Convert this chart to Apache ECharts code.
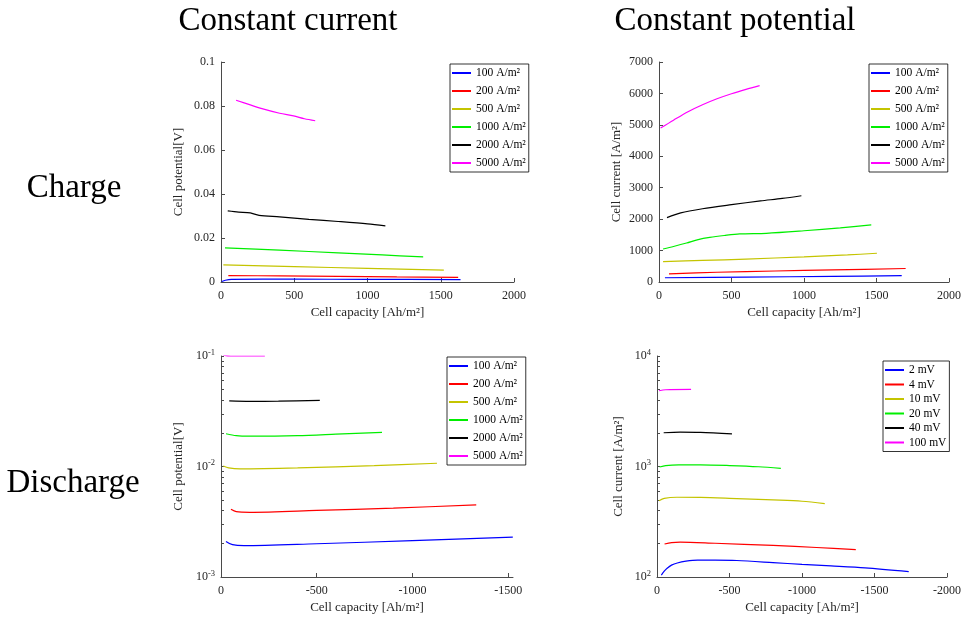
<!DOCTYPE html>
<html>
<head>
<meta charset="utf-8">
<script src="https://cdn.jsdelivr.net/npm/echarts@6/dist/echarts.min.js"></script>
<style>html,body{margin:0;padding:0;background:#fff}#c{width:964px;height:623px}</style>
</head>
<body>
<div id="c"></div>
<script>
// ---------- labels ----------
const currentNames = ['100 A/m²', '200 A/m²', '500 A/m²', '1000 A/m²', '2000 A/m²', '5000 A/m²'];
const potentialNames = ['2 mV', '4 mV', '10 mV', '20 mV', '40 mV', '100 mV'];
const colTitles = ['Constant current', 'Constant potential'];
const rowTitles = ['Charge', 'Discharge'];
const xName = 'Cell capacity [Ah/m²]';
const yNames = ['Cell potential[V]', 'Cell current [A/m²]', 'Cell potential[V]', 'Cell current [A/m²]'];

// ---------- tick values ----------
const xTicksCharge = [0, 500, 1000, 1500, 2000];
const xTicksDisLeft = [0, -500, -1000, -1500];
const xTicksDisRight = [0, -500, -1000, -1500, -2000];
const yLogDecadesLeft = [0.001, 0.01, 0.1];
const yLogDecadesRight = [100, 1000, 10000];
const yLogMinorLeft = [0.002,0.003,0.004,0.005,0.006,0.007,0.008,0.009,0.02,0.03,0.04,0.05,0.06,0.07,0.08,0.09];
const yLogMinorRight = [200,300,400,500,600,700,800,900,2000,3000,4000,5000,6000,7000,8000,9000];

// ---------- Constant current, charge: [capacity, potential V] ----------
const ccCh100 = [[5,0.0002],[30,0.0008],[70,0.0012],[500,0.0013],[1000,0.0012],[1635,0.0011]];
const ccCh200 = [[50,0.0029],[400,0.0028],[800,0.0026],[1200,0.0023],[1619,0.0021]];
const ccCh500 = [[16,0.0078],[500,0.0070],[1000,0.0062],[1521,0.0054]];
const ccCh1000 = [[27,0.0155],[400,0.0145],[800,0.0132],[1100,0.0123],[1380,0.0114]];
const ccCh2000 = [[46,0.0323],[120,0.0318],[200,0.0314],[260,0.0303],[400,0.0296],[600,0.0285],[800,0.0275],[1000,0.0264],[1122,0.0255]];
const ccCh5000 = [[103,0.0826],[200,0.0805],[267,0.0790],[400,0.0767],[495,0.0755],[570,0.0742],[643,0.0733]];

// ---------- Constant potential, charge: [capacity, current A/m2] ----------
const cpCh100 = [[41,135],[600,155],[1200,180],[1674,200]];
const cpCh200 = [[69,260],[400,310],[800,350],[1200,385],[1701,430]];
const cpCh500 = [[28,650],[300,685],[600,730],[1000,800],[1300,860],[1503,915]];
const cpCh1000 = [[28,1050],[100,1130],[190,1240],[270,1350],[350,1420],[450,1480],[556,1530],[740,1550],[1000,1630],[1250,1720],[1464,1815]];
const cpCh2000 = [[55,2050],[150,2200],[300,2330],[500,2460],[700,2580],[850,2660],[982,2745]];
const cpCh5000 = [[11,4900],[100,5150],[200,5420],[300,5640],[400,5830],[500,5990],[600,6130],[694,6250]];

// ---------- Constant current, discharge: [capacity, potential V] ----------
const ccDis100 = [[-26,0.0021],[-60,0.00196],[-120,0.00192],[-500,0.00200],[-1000,0.00213],[-1524,0.0023]];
const ccDis200 = [[-52,0.0041],[-80,0.0039],[-150,0.00385],[-500,0.0040],[-900,0.0042],[-1333,0.0045]];
const ccDis500 = [[-12,0.0101],[-40,0.0097],[-100,0.0095],[-400,0.0097],[-800,0.0102],[-1128,0.0107]];
const ccDis1000 = [[-26,0.0198],[-80,0.0190],[-150,0.0188],[-400,0.0190],[-600,0.0196],[-841,0.0204]];
const ccDis2000 = [[-43,0.0392],[-150,0.0388],[-300,0.0390],[-516,0.0397]];
const ccDis5000 = [[-12,0.102],[-50,0.100],[-229,0.100]];

// ---------- Constant potential, discharge: [capacity, current A/m2] ----------
const cpDis2 = [[-30,104],[-50,113],[-70,120],[-100,128],[-140,134],[-200,139],[-280,142],[-400,142],[-550,141],[-800,135],[-1000,130],[-1200,126],[-1435,121],[-1736,112]];
const cpDis4 = [[-52,199],[-100,205],[-160,207],[-400,202],[-800,193],[-1100,185],[-1371,177]];
const cpDis10 = [[-14,490],[-50,515],[-137,527],[-300,525],[-500,515],[-800,498],[-1000,485],[-1157,462]];
const cpDis20 = [[-18,990],[-60,1020],[-150,1035],[-300,1035],[-500,1020],[-700,995],[-854,960]];
const cpDis40 = [[-46,2020],[-160,2045],[-300,2035],[-517,1975]];
const cpDis100 = [[-14,4850],[-60,4950],[-235,4980]];

const panels = [
  [ccCh100, ccCh200, ccCh500, ccCh1000, ccCh2000, ccCh5000],
  [cpCh100, cpCh200, cpCh500, cpCh1000, cpCh2000, cpCh5000],
  [ccDis100, ccDis200, ccDis500, ccDis1000, ccDis2000, ccDis5000],
  [cpDis2, cpDis4, cpDis10, cpDis20, cpDis40, cpDis100]
];
const panelNames = [currentNames, currentNames, currentNames, potentialNames];

// ---------- style ----------
const colors = ['#0000ff', '#ff0000', '#c4c400', '#00ee00', '#000000', '#ff00ff'];
const serif = "'Liberation Serif', 'DejaVu Serif', serif";
const axisColor = '#4a4a4a';
const textColor = '#262626';
const titleFont = "33px 'Liberation Serif', serif";

const grids = [
  {left: 221, top: 62, width: 293, height: 220},
  {left: 659, top: 62, width: 290, height: 220},
  {left: 221, top: 356, width: 292, height: 221},
  {left: 657, top: 356, width: 292, height: 221}
];

function numFmt(v) { return String(+v.toFixed(3)); }
function logFmt(v) {
  const e = Math.round(Math.log10(v));
  return '{b|10}{s|' + e + '}';
}
const logRich = {
  b: {fontFamily: serif, fontSize: 12, color: textColor},
  s: {fontFamily: serif, fontSize: 8.5, color: textColor, verticalAlign: 'top', padding: [0, 0, 7, 0]}
};

function axis(gi, extra, tickExtra, labelExtra) {
  return Object.assign({
    gridIndex: gi,
    splitLine: {show: false},
    axisLine: {show: true, onZero: false, lineStyle: {color: axisColor, width: 1}},
    axisTick: Object.assign({show: true, inside: true, length: 4, lineStyle: {color: axisColor}}, tickExtra || {}),
    axisLabel: Object.assign({color: textColor, fontFamily: serif, fontSize: 12, margin: 6, formatter: numFmt}, labelExtra || {}),
    nameTextStyle: {color: textColor, fontFamily: serif, fontSize: 13},
    nameLocation: 'middle'
  }, extra);
}

const xAxes = [
  axis(0, {type: 'value', min: 0, max: 2000, interval: 500, name: xName, nameGap: 24}, null, {margin: 8}),
  axis(1, {type: 'value', min: 0, max: 2000, interval: 500, name: xName, nameGap: 24}, null, {margin: 8}),
  axis(2, {type: 'value', min: -1525, max: 0, inverse: true, name: xName, nameGap: 24},
    {customValues: xTicksDisLeft}, {margin: 8, customValues: xTicksDisLeft}),
  axis(3, {type: 'value', min: -2000, max: 0, inverse: true, name: xName, nameGap: 24},
    {customValues: xTicksDisRight}, {margin: 8, customValues: xTicksDisRight})
];

const yAxes = [
  axis(0, {type: 'value', min: 0, max: 0.1, interval: 0.02, name: yNames[0], nameGap: 36}),
  axis(1, {type: 'value', min: 0, max: 7000, interval: 1000, name: yNames[1], nameGap: 36}),
  axis(2, {type: 'log', logBase: 10, min: 0.001, max: 0.1, name: yNames[2], nameGap: 36},
    {length: 3, customValues: yLogDecadesLeft.concat(yLogMinorLeft)},
    {customValues: yLogDecadesLeft, formatter: logFmt, rich: logRich}),
  axis(3, {type: 'log', logBase: 10, min: 100, max: 10000, name: yNames[3], nameGap: 32},
    {length: 3, customValues: yLogDecadesRight.concat(yLogMinorRight)},
    {customValues: yLogDecadesRight, formatter: logFmt, rich: logRich})
];

const series = [];
panels.forEach((p, gi) => {
  p.forEach((d, si) => {
    series.push({
      type: 'line', name: panelNames[gi][si], xAxisIndex: gi, yAxisIndex: gi,
      data: d, symbol: 'none', smooth: 0.3, animation: false,
      lineStyle: {color: colors[si], width: 1.2}, itemStyle: {color: colors[si]}
    });
  });
});

function legend(left, top, names, gap) {
  return {
    left: left, top: top, orient: 'vertical', data: names, icon: 'rect',
    backgroundColor: '#fff', borderColor: '#000', borderWidth: 0.8, borderRadius: 0,
    padding: [3, 3, 3, 2], itemGap: gap, itemWidth: 19, itemHeight: 2,
    textStyle: {fontFamily: serif, fontSize: 11.5, color: '#000', lineHeight: 12},
    selectedMode: false
  };
}

function label(text, x, y) {
  return {type: 'text', style: {text: text, x: x, y: y, align: 'center', verticalAlign: 'middle', font: titleFont, fill: '#000'}};
}

const chart = echarts.init(document.getElementById('c'), null, {renderer: 'canvas'});
chart.setOption({
  animation: false,
  backgroundColor: '#fff',
  grid: grids,
  xAxis: xAxes,
  yAxis: yAxes,
  legend: [
    legend(450, 64, currentNames, 6),
    legend(869, 64, currentNames, 6),
    legend(447, 357, currentNames, 6),
    legend(883, 361, potentialNames, 2.5)
  ],
  graphic: [
    label(colTitles[0], 288, 21),
    label(colTitles[1], 735, 21),
    label(rowTitles[0], 74, 188),
    label(rowTitles[1], 73, 483)
  ],
  series: series
});
</script>
</body>
</html>
